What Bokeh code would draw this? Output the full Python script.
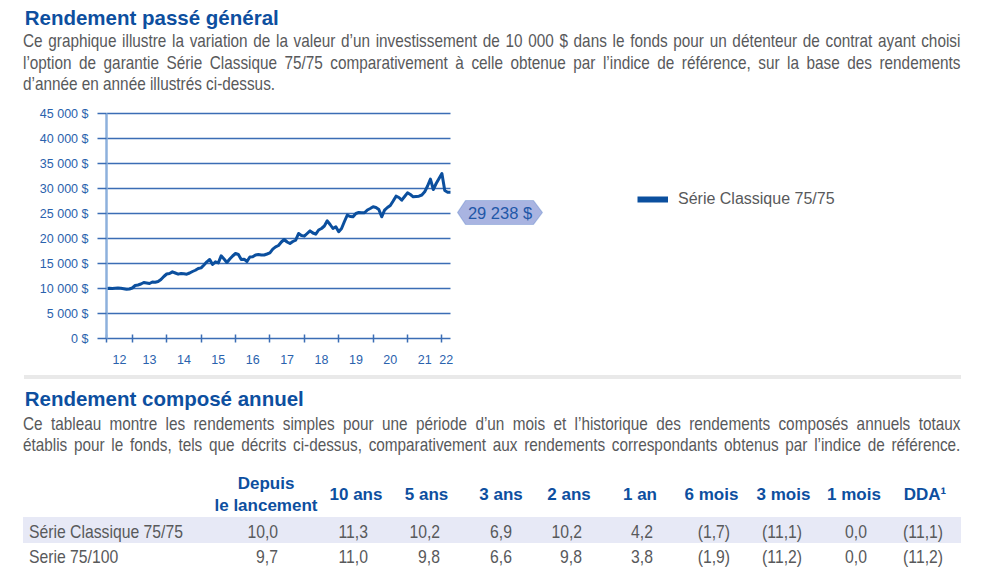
import pandas as pd
from bokeh.plotting import figure
from bokeh.models import (Div, FixedTicker, PolyAnnotation, Label, Legend,
                          LegendItem, Range1d, ColumnDataSource, Grid)
from bokeh.layouts import column
from bokeh.embed import file_html
from bokeh.resources import INLINE

# ---------------- data ----------------
series_name = "Série Classique 75/75"
values = [
    10000, 10050, 10000, 10050, 10100, 10050, 9950, 9850, 9900, 10100,
    10600, 10700, 10900, 11200, 11100, 11000, 11300, 11250, 11400, 11800,
    12400, 12900, 13000, 13330, 13100, 12870, 13000, 12950, 12870, 13100,
    13400, 13650, 14000, 14130, 14700, 15330, 15800, 14800, 15330, 15130,
    16530, 15900, 15200, 15900, 16500, 17000, 16800, 15800, 15870, 15400,
    16300, 16330, 16700, 16800, 16700, 16700, 16900, 17130, 17870, 18330,
    18600, 19300, 19800, 19300, 19000, 19400, 19670, 21000, 20600, 20470,
    21000, 21530, 21100, 20870, 21700, 22000, 22500, 23540, 22800, 22000,
    22340, 21340, 22000, 23400, 24670, 24400, 24340, 25000, 25200, 25150,
    25140, 25700, 26000, 26340, 26200, 25800, 24340, 25670, 26200, 26600,
    27500, 28470, 28200, 27670, 28400, 29140, 28800, 28340, 28400, 28470,
    28700, 29340, 30500, 31870, 29800, 31000, 32000, 33000, 29600, 29250,
    29238,
]
dates = pd.date_range("2012-04-01", periods=len(values), freq="MS")
years = [2012, 2013, 2014, 2015, 2016, 2017, 2018, 2019, 2020, 2021, 2022]
year_labels = ["12", "13", "14", "15", "16", "17", "18", "19", "20", "21", "22"]
y_ticks = [0, 5000, 10000, 15000, 20000, 25000, 30000, 35000, 40000, 45000]
y_tick_labels = ["0 $", "5 000 $", "10 000 $", "15 000 $", "20 000 $",
                 "25 000 $", "30 000 $", "35 000 $", "40 000 $", "45 000 $"]

title1 = "Rendement passé général"
para1 = [
    "Ce graphique illustre la variation de la valeur d’un investissement de 10 000 $ dans le fonds pour un détenteur de contrat ayant choisi",
    "l’option de garantie Série Classique 75/75 comparativement à celle obtenue par l’indice de référence, sur la base des rendements",
    "d’année en année illustrés ci-dessus.",
]
title2 = "Rendement composé annuel"
para2 = [
    "Ce tableau montre les rendements simples pour une période d’un mois et l’historique des rendements composés annuels totaux",
    "établis pour le fonds, tels que décrits ci-dessus, comparativement aux rendements correspondants obtenus par l’indice de référence.",
]
table_headers = ["Depuis|le lancement", "10 ans", "5 ans", "3 ans", "2 ans", "1 an",
                 "6 mois", "3 mois", "1 mois", "DDA¹"]
row_names = ["Série Classique 75/75", "Serie 75/100"]
row_values = [
    ["10,0", "11,3", "10,2", "6,9", "10,2", "4,2", "(1,7)", "(11,1)", "0,0", "(11,1)"],
    ["9,7", "11,0", "9,8", "6,6", "9,8", "3,8", "(1,9)", "(11,2)", "0,0", "(11,2)"],
]

# ---------------- styles ----------------
BLUE = "#0d4f9f"
GRAY = "#58595b"
GRID = "#3b6db5"
AXIS_Y = "#8db0dc"
LINE = "#0b4f9e"
FR = "'Liberation Sans', Arial, sans-serif"
SX = 0.828  # horizontal condensing of the body font

x = [d.year + (d.month - 1) / 12 for d in dates]
x0, x1 = x[0], x[-1]

# ---------------- text helpers ----------------
def title_html(text, top):
    return (f'<div style="position:absolute;left:24.7px;top:{top}px;white-space:nowrap;'
            f'font-family:{FR};font-weight:bold;font-size:20.5px;line-height:20.5px;'
            f'color:{BLUE};">{text}</div>')

def para_html(lines, tops, justify_last=False):
    out = []
    w = 937.4 / SX
    for i, ln in enumerate(lines):
        last = (i == len(lines) - 1) and not justify_last
        align = "left" if last else "justify"
        out.append(
            f'<div style="position:absolute;left:23.3px;top:{tops[i]:.1f}px;width:{w:.1f}px;'
            f'white-space:nowrap;transform:scaleX({SX});transform-origin:0 0;'
            f'font-family:{FR};font-size:18.5px;line-height:22px;color:{GRAY};'
            f'text-align:{align};text-align-last:{align};">{ln}</div>')
    return "".join(out)

top_html = ('<div style="position:relative;width:992px;height:100px;">'
            + title_html(title1, 7.6) + para_html(para1, [30.3, 51.9, 72.6]) + '</div>')
top_div = Div(text=top_html, width=992, height=100, margin=0)

# ---------------- chart ----------------
frame_w_data = 344
frame_w = 854
x_end = x0 + (x1 - x0) * frame_w / frame_w_data
p = figure(width=992, height=268,
           x_range=Range1d(x0, x_end), y_range=Range1d(0, 45400),
           min_border_left=106, min_border_right=992 - 106 - frame_w,
           min_border_top=11, min_border_bottom=30,
           output_backend="svg", toolbar_location=None, margin=0)
p.outline_line_color = None
p.background_fill_color = "white"
p.border_fill_color = "white"

src = ColumnDataSource(dict(x=x, y=values))
ln = p.line("x", "y", source=src, line_color=LINE, line_width=3, line_join="round")
# thicker swatch for the legend only (same series, not drawn)
ln_key = p.line("x", "y", source=src, line_color=LINE, line_width=6, visible=False)

p.xgrid.visible = False
p.ygrid.ticker = FixedTicker(ticks=y_ticks)
p.ygrid.grid_line_color = GRID
p.ygrid.grid_line_width = 1.7
if "cross_bounds" in Grid.properties():
    p.ygrid.cross_bounds = (x0, x1)
else:
    p.ygrid.visible = False
    p.segment(x0=[x0] * len(y_ticks), y0=y_ticks, x1=[x1] * len(y_ticks), y1=y_ticks,
              line_color=GRID, line_width=1.7, level="underlay")

ya = p.yaxis[0]
ya.ticker = FixedTicker(ticks=y_ticks)
ya.major_label_overrides = {t: l for t, l in zip(y_ticks, y_tick_labels)}
ya.bounds = (0, 45000)
ya.axis_line_color = AXIS_Y
ya.axis_line_width = 2.5
ya.major_tick_line_color = GRID
ya.major_tick_line_width = 1.7
ya.major_tick_out = 9
ya.major_tick_in = 0
ya.minor_tick_line_color = None
ya.major_label_standoff = 9
ya.major_label_text_font = "Liberation Sans"
ya.major_label_text_font_size = "12.5px"
ya.major_label_text_color = "#2a62ad"

mids = [(max(yr, x0) + min(yr + 1, x1)) / 2 for yr in years]
bounds_ticks = sorted([yr for yr in years if x0 < yr <= x1] + [x0])
xa = p.xaxis[0]
xa.ticker = FixedTicker(ticks=mids, minor_ticks=bounds_ticks)
xa.major_label_overrides = {m: l for m, l in zip(mids, year_labels)}
xa.bounds = (x0, x1)
xa.axis_line_color = GRID
xa.axis_line_width = 1.7
xa.major_tick_line_color = None
xa.major_tick_out = 0
xa.major_tick_in = 0
xa.minor_tick_line_color = GRID
xa.minor_tick_line_width = 1.5
xa.minor_tick_in = 4
xa.minor_tick_out = 4
xa.major_label_standoff = 12
xa.major_label_text_font = "Liberation Sans"
xa.major_label_text_font_size = "12.5px"
xa.major_label_text_color = "#2a62ad"

# final value callout
cx = [2022.453, 2022.686, 2024.663, 2024.924, 2024.663, 2022.686]
cy = [25200, 27600, 27600, 25200, 22800, 22800]
p.add_layout(PolyAnnotation(xs=cx, ys=cy, fill_color="#a9b4e1", fill_alpha=1.0,
                            line_color="#3f6fbf", line_width=1.2))
final_text = f"{values[-1]:,}".replace(",", " ") + " $"
p.add_layout(Label(x=2023.69, y=25200, text=final_text, text_align="center",
                   text_baseline="middle", text_font="Liberation Sans",
                   text_font_size="16.5px", text_color="#1f57a8"))

legend = Legend(items=[LegendItem(label=series_name, renderers=[ln_key])],
                location=(531, 129), orientation="vertical")
legend.label_text_font = "Liberation Sans"
legend.label_text_font_size = "16px"
legend.label_text_color = GRAY
legend.glyph_width = 31
legend.glyph_height = 20
legend.label_height = 20
legend.label_standoff = 10
legend.padding = 0
legend.margin = 0
legend.spacing = 0
legend.border_line_alpha = 0
legend.background_fill_alpha = 0
legend.inactive_fill_alpha = 0
p.add_layout(legend)

# ---------------- bottom section ----------------
hdr_centers = [266, 356, 426.5, 501, 569, 640, 711.5, 783.5, 854, 925]
val_rights = [278, 368, 440, 512, 582, 653, 730, 802, 867, 943]

parts = ['<div style="position:relative;width:992px;height:212px;">']
parts.append('<div style="position:absolute;left:24px;top:7px;width:937px;height:4px;background:#e9e9e9;"></div>')
parts.append(title_html(title2, 21.4))
parts.append(para_html(para2, [44.6, 65.6], justify_last=True))
hstyle = (f"position:absolute;width:130px;text-align:center;white-space:nowrap;"
          f"font-family:{FR};font-weight:bold;font-size:17px;line-height:17px;color:{BLUE};")
for h, c in zip(table_headers, hdr_centers):
    if "|" in h:
        a, b = h.split("|")
        parts.append(f'<div style="{hstyle}left:{c - 65}px;top:106.9px;">{a}</div>')
        parts.append(f'<div style="{hstyle}left:{c - 65}px;top:129.3px;">{b}</div>')
    else:
        parts.append(f'<div style="{hstyle}left:{c - 65}px;top:118.3px;">{h}</div>')
parts.append('<div style="position:absolute;left:23.3px;top:149.3px;width:937.4px;height:25.4px;background:#e7e9f6;"></div>')
vstyle = (f"position:absolute;white-space:nowrap;font-family:{FR};font-size:19px;"
          f"line-height:19px;color:{GRAY};")
for ri, (name, vals) in enumerate(zip(row_names, row_values)):
    top = 154.2 + ri * 24.4
    parts.append(f'<div style="{vstyle}left:29.3px;top:{top:.1f}px;'
                 f'transform:scaleX({SX});transform-origin:0 0;">{name}</div>')
    for v, r in zip(vals, val_rights):
        parts.append(f'<div style="{vstyle}left:{r - 100}px;width:100px;text-align:right;'
                     f'top:{top:.1f}px;transform:scaleX({SX});transform-origin:100% 0;">{v}</div>')
parts.append('</div>')
bottom_div = Div(text="".join(parts), width=992, height=212, margin=0)

layout = column(top_div, p, bottom_div, spacing=0, margin=0)
open("out.html", "w").write(file_html(layout, INLINE))
